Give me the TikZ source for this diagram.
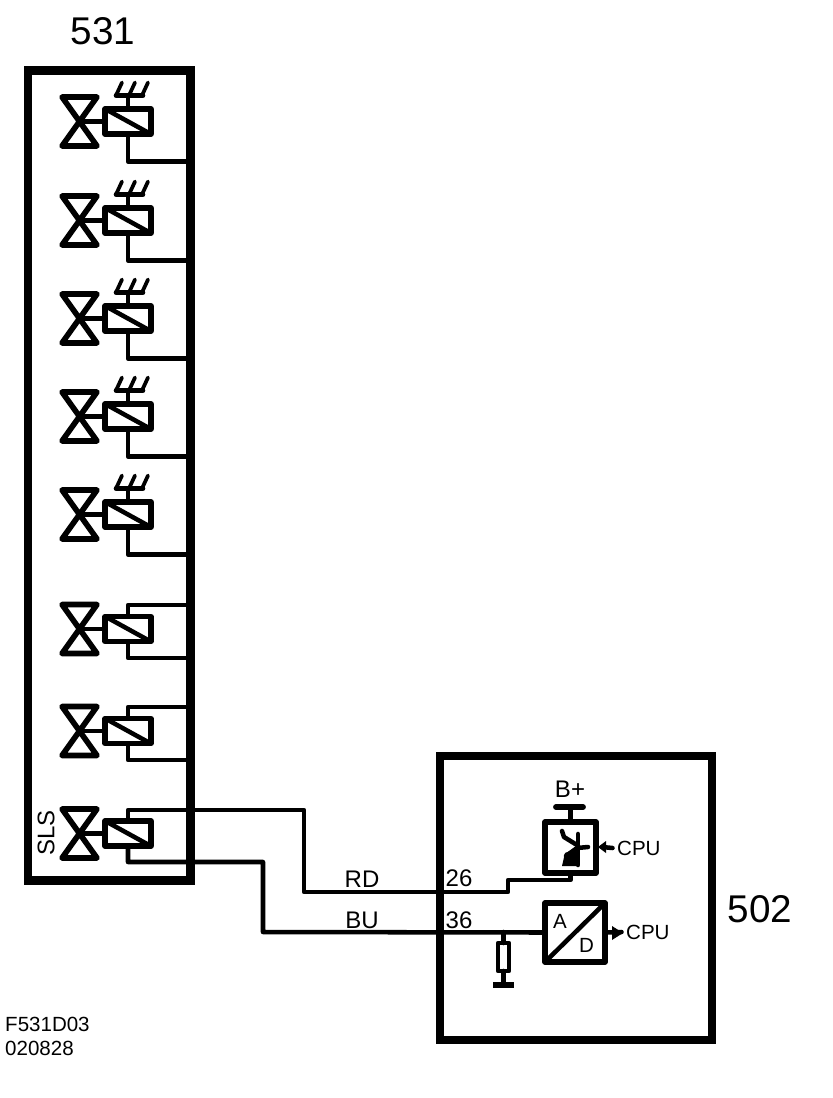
\documentclass[tikz,border=0pt]{standalone}
\usepackage{fontspec}
\setmainfont{Liberation Sans}
\usepackage{tikz}

\tikzset{
	wire/.style={line width=3.4pt,line cap=round,line join=round},
	thinwire/.style={line width=2.8pt,line cap=round},
	frame/.style={rectangle,draw,line width=6.4pt,inner sep=0pt,outer sep=0pt},
	part/.style={rectangle,draw,line width=4.2pt,inner sep=0pt,outer sep=0pt,line join=round},
	big/.style={font=\fontsize{29}{32}\selectfont},
	mid/.style={font=\fontsize{18}{20}\selectfont},
	small/.style={font=\fontsize{15.4}{18}\selectfont},
}

\begin{document}
\begin{tikzpicture}[x=0.75pt,y=-0.75pt]

	\def\px{0.75pt}
	\def\valve#1#2{
		\coordinate (#1) at (79,#2);
		\node[part,minimum width=45.5*\px,minimum height=25*\px] (#1coil) at (128,#2) {};
		\draw[part] (62,#2-24.5) -- (97,#2-24.5) -- (62,#2+24.5) -- (97,#2+24.5) -- cycle;
		\draw[wire] (#1) -- (#1coil);
		\draw[wire] (#1coil.north west) -- (#1coil.south east);
	}
	\def\comb#1#2{
		\coordinate (#1head) at (128,#2-26);
		\coordinate (#1wall) at (188,#2+40);
		\draw[wire] (#1coil.north) -- (#1head);
		\draw[wire] (116,#2-26) -- (143,#2-26);
		\draw[thinwire] (116,#2-26) -- (122,#2-39);
		\draw[thinwire] (129,#2-26) -- (135,#2-39);
		\draw[thinwire] (142,#2-26) -- (148,#2-39);
		\draw[wire] (#1coil.south) |- (#1wall);
	}

	\useasboundingbox (0,0) rectangle (832,1098);

	\node[frame,minimum width=162.5*\px,minimum height=810*\px] (box531) at (109.25,475.5) {};
	\node[frame,minimum width=272*\px,minimum height=284*\px] (box502) at (576,898) {};

	\node[big] (title531) at (103,31) {531};
	\node[big] (title502) at (760,909) {502};

	\valve{one}{121.5}
	\comb{one}{121.5}
	\valve{two}{220.5}
	\comb{two}{220.5}
	\valve{three}{318.5}
	\comb{three}{318.5}
	\valve{four}{416.5}
	\comb{four}{416.5}
	\valve{five}{514.5}
	\comb{five}{514.5}
	\valve{six}{629}
	\valve{seven}{731}
	\valve{sls}{833.5}

	\coordinate (sixtop) at (188,605);
	\coordinate (sixbot) at (188,658);
	\coordinate (seventop) at (188,707);
	\coordinate (sevenbot) at (188,760);
	\draw[wire] (sixcoil.north) |- (sixtop);
	\draw[wire] (sixcoil.south) |- (sixbot);
	\draw[wire] (sevencoil.north) |- (seventop);
	\draw[wire] (sevencoil.south) |- (sevenbot);

	\node[mid,rotate=90] (slstext) at (46,833) {SLS};

	% module 502
	\node[part,minimum width=51*\px,minimum height=51*\px] (switch) at (570.5,847.5) {};
	\node[part,minimum width=60*\px,minimum height=59*\px] (adc) at (575,932.5) {};
	\node[part,line width=3.4pt,minimum width=11*\px,minimum height=28*\px] (res) at (503.5,957) {};
	\coordinate (batt) at (570.5,807);
	\coordinate (gnd) at (503.5,985);

	\draw[wire] (adc.south west) -- (adc.north east);
	\node[small] (atext) at (560,921) {A};
	\node[small] (dtext) at (586.5,945) {D};

	% wires to 531
	\coordinate (rdA) at (304,810);
	\coordinate (rdB) at (508,892);
	\coordinate (rdC) at (508,880);
	\coordinate (buA) at (263,862);
	\coordinate (buB) at (263,932);
	\draw[wire] (slscoil.north) |- (rdA) |- (rdB) -- (rdC) -| (switch.south);
	\draw[wire] (slscoil.south) |- (buA) -- (buB) -- (adc.west);

	\draw[wire] (batt) -- (switch.north);
	\draw[wire,line width=4.4pt] (556,807) -- (583,807);
	\draw[wire] (503.5,932) -- (res.north);
	\draw[wire] (res.south) -- (gnd);
	\draw[line width=5.2pt] (493,985) -- (514,985);

	% switch symbol
	\draw[wire] (562,831) -- (564,837) -- (577,845);
	\draw[wire] (578,834) -- (578,865);
	\draw[wire] (566,856) -- (577,848) -- (588,847);
	\fill[line join=round] (562,866) -- (565,853) -- (578,848) -- (578,866) -- cycle;

	% cpu arrows
	\node[small,anchor=west] (cpuin) at (612.5,848) {CPU};
	\node[small,anchor=west] (cpuout) at (621.5,932) {CPU};
	\draw[wire] (cpuin.west) -- (602,847);
	\fill (598,847) -- (606,841) -- (606,853) -- cycle;
	\draw[wire] (adc.east) -- (cpuout.west);
	\fill (623,933) -- (612,926) -- (612,940) -- cycle;

	% labels
	\node[mid] (rd) at (362,879) {RD};
	\node[mid] (bu) at (362,920) {BU};
	\node[mid] (pin26) at (459,878) {26};
	\node[mid] (pin36) at (459,920) {36};
	\node[mid] (bplus) at (570,789) {B+};
	\node[small,anchor=west] (code) at (0.5,1024) {F531D03};
	\node[small,anchor=west] (date) at (0.5,1048) {020828};

\end{tikzpicture}
\end{document}
